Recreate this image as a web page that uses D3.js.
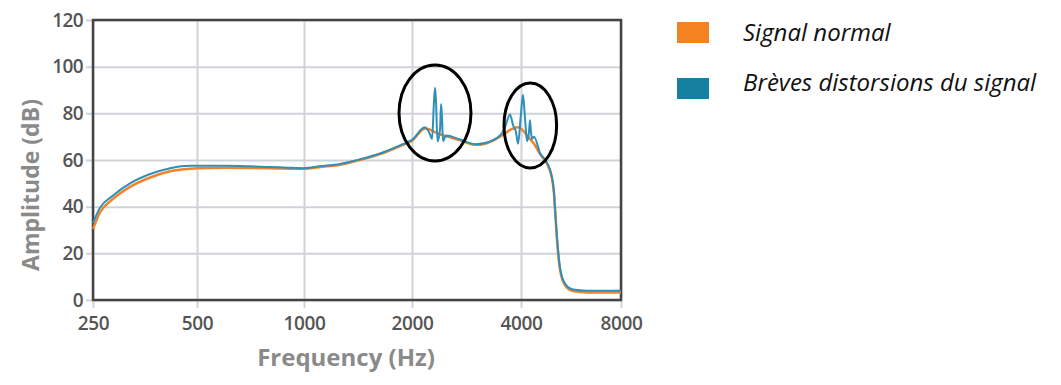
<!DOCTYPE html>
<html>
<head>
<meta charset="utf-8">
<script src="https://cdn.jsdelivr.net/npm/d3@7"></script>
<style>
  html, body { margin: 0; padding: 0; background: #ffffff; }
  svg { display: block; }
</style>
</head>
<body>
<svg id="chart" width="1061" height="385"></svg>
<script>
// ---------- data ----------
const xTickValues = [250, 500, 1000, 2000, 4000, 8000];
const yTickValues = [0, 20, 40, 60, 80, 100, 120];
const seriesNames = ["Signal normal", "Brèves distorsions du signal"];

const freqNormal = [250, 262, 284, 320, 366, 418, 477, 500, 600, 800, 1000, 1108, 1260, 1432, 1628, 1852, 2000, 2172,
  2390, 2714, 2986, 3182, 3500, 3802, 3926, 4256, 4377, 4564, 4824, 4959, 5029, 5063, 5133, 5241, 5427, 5736, 6320, 8000];
const dbNormal = [30.5, 37.5, 43, 48.5, 52.5, 55.2, 56.3, 56.5, 56.7, 56.5, 56.2, 57, 58, 60, 62.5, 66, 68.3, 73.5,
  71, 68.5, 66.5, 67, 70, 73.5, 74, 69, 67, 62.5, 57.5, 52, 45.5, 39, 26, 13, 6.3, 3.8, 3.2, 3.2];

const freqDistorted = [250, 262, 284, 320, 366, 418, 450, 477, 500, 600, 700, 800, 900, 1000, 1108, 1260, 1432, 1628, 1852, 2000, 2172,
  2242, 2272, 2300, 2316, 2330, 2352, 2390, 2406, 2421, 2436, 2482, 2714, 2986, 3182, 3500, 3612, 3730, 3802, 3874, 3926,
  4000, 4056, 4112, 4170, 4228, 4256, 4287, 4317, 4377, 4564, 4824, 4959, 5029, 5063, 5133, 5241, 5427, 5736, 6320, 8000];
const dbDistorted = [33, 39.5, 44.5, 50, 54, 56.5, 57.3, 57.5, 57.5, 57.5, 57.3, 57, 56.7, 56.5, 57.3, 58.3, 60.3, 62.8, 66.3, 68.6, 74,
  71, 69, 85, 91, 85, 68, 73, 84, 78, 68, 70.5, 68.8, 66.8, 67.3, 70.5, 74, 79.5, 75, 72, 67,
  80, 88, 78, 68, 72, 77, 72, 69, 70, 63, 58, 52.5, 46, 39.5, 27, 14, 7, 4.5, 4, 4];

// highlighted regions (data units): [freq min, freq max], [dB min, dB max]
const highlightFreq = [[1840, 2910], [3590, 5120]];
const highlightDb = [[59.6, 100.7], [56.6, 93]];

// ---------- chart ----------
const svg = d3.select("#chart");
const font = "'Open Sans', 'DejaVu Sans', sans-serif";

const x = d3.scaleLog()
  .domain(xTickValues)
  .range([93, 197, 304, 412, 521, 621]);
const y = d3.scaleLinear().domain([0, 120]).range([300, 20]);

const plotLeft = x(250), plotRight = x(8000), plotTop = y(120), plotBottom = y(0);

// vertical grid + x ticks
const gx = svg.append("g")
  .attr("transform", `translate(0,${plotBottom + 8})`)
  .call(d3.axisBottom(x)
    .tickValues(xTickValues)
    .tickFormat(d3.format("d"))
    .tickSizeInner(-(plotBottom + 8 - plotTop))
    .tickSizeOuter(0)
    .tickPadding(9));
gx.select(".domain").remove();
gx.selectAll(".tick line").attr("stroke", "#cfd3d8").attr("stroke-width", 2);
gx.selectAll(".tick text")
  .attr("font-family", font).attr("font-size", 19).attr("font-weight", 600).attr("fill", "#555555")
  .attr("letter-spacing", "-0.4px");

// horizontal grid + y ticks
const gy = svg.append("g")
  .attr("transform", `translate(${plotLeft - 7},0)`)
  .call(d3.axisLeft(y)
    .tickValues(yTickValues)
    .tickSizeInner(-(plotRight - plotLeft + 7))
    .tickSizeOuter(0)
    .tickPadding(3));
gy.select(".domain").remove();
gy.selectAll(".tick line").attr("stroke", "#cfd3d8").attr("stroke-width", 2);
gy.selectAll(".tick text")
  .attr("font-family", font).attr("font-size", 19).attr("font-weight", 600).attr("fill", "#555555")
  .attr("letter-spacing", "-0.6px");

// frame
svg.append("rect")
  .attr("x", plotLeft).attr("y", plotTop)
  .attr("width", plotRight - plotLeft).attr("height", plotBottom - plotTop)
  .attr("fill", "none").attr("stroke", "#444444").attr("stroke-width", 2.5);

// lines
const line = d3.line().x(d => x(d[0])).y(d => y(d[1])).curve(d3.curveMonotoneX);
const normalData = freqNormal.map((f, i) => [f, dbNormal[i]]);
const distortedData = freqDistorted.map((f, i) => [f, dbDistorted[i]]);

svg.append("path").datum(normalData)
  .attr("d", line).attr("fill", "none")
  .attr("stroke", "#f3822a").attr("stroke-width", 2.5);
svg.append("path").datum(distortedData)
  .attr("d", line).attr("fill", "none")
  .attr("stroke", "#2f8fb8").attr("stroke-width", 2);

// highlight ellipses
highlightFreq.forEach((fr, i) => {
  const x0 = x(fr[0]), x1 = x(fr[1]);
  const y0 = y(highlightDb[i][1]), y1 = y(highlightDb[i][0]);
  svg.append("ellipse")
    .attr("cx", (x0 + x1) / 2).attr("cy", (y0 + y1) / 2)
    .attr("rx", (x1 - x0) / 2).attr("ry", (y1 - y0) / 2)
    .attr("fill", "none").attr("stroke", "#000").attr("stroke-width", 3);
});

// axis titles
svg.append("text")
  .attr("x", 346).attr("y", 366)
  .attr("text-anchor", "middle")
  .attr("font-family", font).attr("font-weight", "bold").attr("font-size", 24)
  .attr("fill", "#8a8a8a")
  .text("Frequency (Hz)");
svg.append("text")
  .attr("transform", `translate(39,185) rotate(-90)`)
  .attr("text-anchor", "middle")
  .attr("font-family", font).attr("font-weight", "bold").attr("font-size", 23)
  .attr("fill", "#8a8a8a")
  .text("Amplitude (dB)");

// legend
const legendColors = ["#f58220", "#15809f"];
const legendY = [22, 78];
const legendBase = [41, 91];
seriesNames.forEach((name, i) => {
  svg.append("rect")
    .attr("x", 677).attr("y", legendY[i]).attr("width", 32).attr("height", 21)
    .attr("fill", legendColors[i]);
  svg.append("text")
    .attr("x", 743).attr("y", legendBase[i])
    .attr("font-family", font).attr("font-style", "italic").attr("font-size", 24)
    .attr("fill", "#111")
    .text(name);
});
</script>
</body>
</html>
